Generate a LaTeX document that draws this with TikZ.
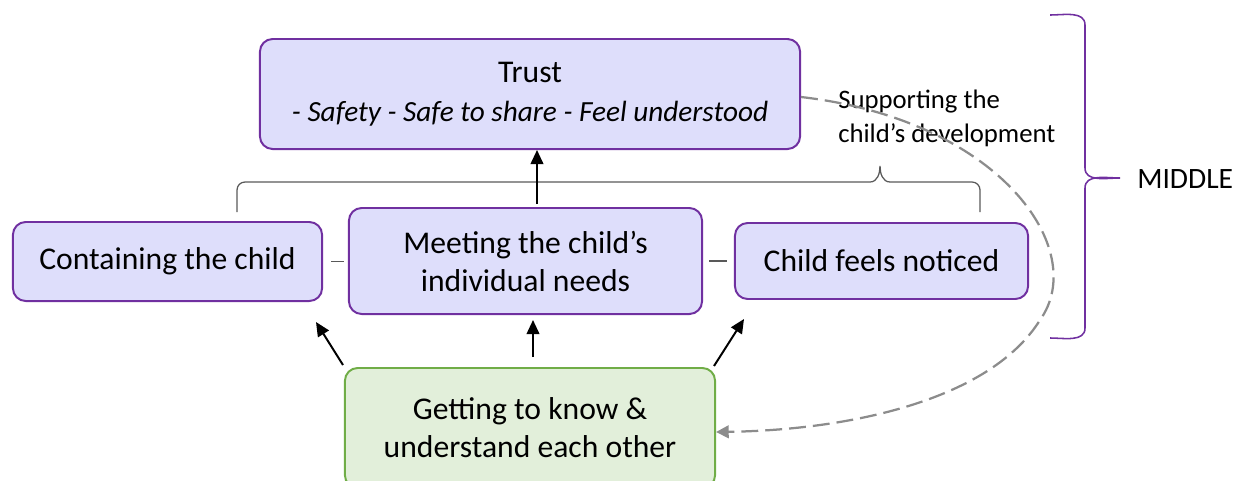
\documentclass[tikz,border=0pt]{standalone}
\usepackage{fontspec}
\setmainfont{Carlito}
\usetikzlibrary{arrows.meta}
\definecolor{purp}{HTML}{7030A0}
\definecolor{lav}{HTML}{DEDEFB}
\definecolor{grnfill}{HTML}{E2EFDA}
\definecolor{grnline}{HTML}{70AD47}
\definecolor{gline}{HTML}{595959}
\definecolor{dline}{HTML}{8C8C8C}
\begin{document}
\begin{tikzpicture}[x=0.025cm,y=-0.025cm,
  pbox/.style={draw=purp,fill=lav,line width=1.4pt,rounded corners=9pt,align=center,font=\fontsize{22.5}{27}\selectfont,inner sep=0pt},
  gbox/.style={draw=grnline,fill=grnfill,line width=1.4pt,rounded corners=9pt,align=center,font=\fontsize{22.5}{27}\selectfont,inner sep=0pt},
  arr/.style={-{Triangle[length=10pt,width=9pt]},line width=1.4pt,black},
  link/.style={gline,line width=0.9pt}]
\useasboundingbox (0,0) rectangle (1233,480);
\begin{scope}
\clip (0,0) rectangle (1233,480);
\node[pbox,minimum width=13.5cm,minimum height=2.75cm] (trust) at (530,94) {Trust\\[1pt]\fontsize{20.8}{25}\selectfont\itshape - Safety - Safe to share - Feel understood};
\node[pbox,minimum width=7.725cm,minimum height=1.975cm] (contain) at (167.5,261.5) {Containing the child};
\node[pbox,minimum width=8.825cm,minimum height=2.65cm] (meet) at (525.5,261) {Meeting the child’s\\individual needs};
\node[pbox,minimum width=7.325cm,minimum height=1.9cm] (notice) at (881.5,261) {Child feels noticed};
\node[gbox,minimum width=9.25cm,minimum height=3.0cm] (get) at (530,428) {Getting to know \&\\understand each other};
\end{scope}
\node[anchor=north west,align=left,inner sep=0pt,font=\fontsize{19}{24}\selectfont] (supp) at (838,90) {Supporting the\\child’s development};
\node[anchor=west,inner sep=0pt,font=\fontsize{21}{25}\selectfont] (mid) at (1137,179) {MIDDLE};
% links between boxes
\draw[link] (contain.east) ++(8,0) coordinate (c1) -- ([xshift=-0.1cm]meet.west|-c1);
\draw[link] (meet.east) ++(6,0) coordinate (c2) -- ([xshift=-0.175cm]notice.west|-c2);
% brace
\draw[link] (237,212) -- (237,190) to[out=90,in=180] (245,182) -- (870,182) to[out=0,in=-90] (880,166) to[out=-90,in=180] (890,182) -- (972,182) to[out=0,in=90] (980,190) -- (980,212);
% arrows
\draw[arr] (meet.north -| 537,0) ++(0,-3) -- (trust.south -| 537,0);
\draw[arr] (343,365) -- (316,322);
\draw[arr] (533,357) -- (533,320);
\draw[arr] (714,366) -- (744,319);
% dashed loop
\draw[dline,line width=1.6pt,dash pattern=on 12pt off 5pt,-{Triangle[length=9pt,width=9pt]}]
  (trust.east|-0,97) .. controls (1000,120) and (1090,250) .. (1040,320)
  .. controls (990,400) and (850,430) .. (get.east|-0,432);
% right brace
\draw[purp,line width=1.1pt] (1050,15) to[out=0,in=90] (1085,25) -- (1085,168) to[out=-90,in=180] (1120,178) to[out=180,in=90] (1085,188) -- (1085,328) to[out=-90,in=0] (1050,338);
\end{tikzpicture}
\end{document}
